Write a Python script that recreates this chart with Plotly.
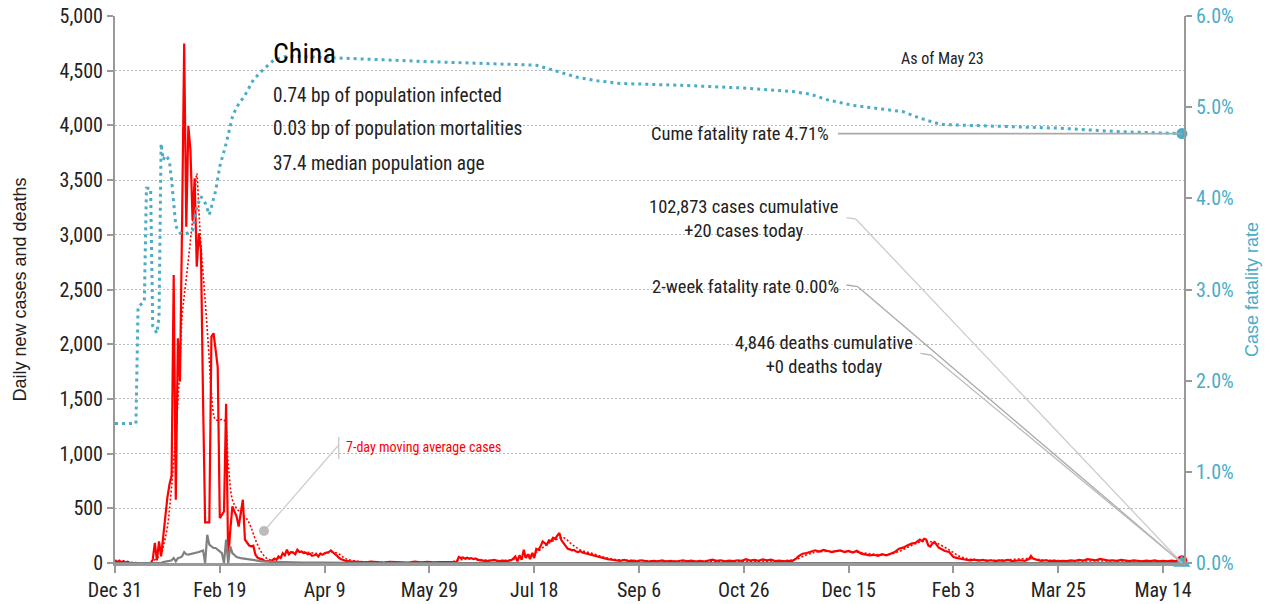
import plotly.graph_objects as go
import pandas as pd

# ---------------- data ----------------
START = "2019-12-31"
RANGE_DAYS = 510          # x axis spans Dec 31 2019 .. May 24 2021
TICK_STEP_DAYS = 50

# daily new cases: (day offset from Dec 31 2019, value)
case_day = [0, 1, 2, 3, 4, 5, 6, 7, 8, 17, 18, 19, 20, 21, 22, 23, 24, 25, 26, 27, 28, 29, 30, 31, 32, 33, 34, 35,
            36, 37, 38, 39, 40, 41, 42, 43, 44, 45, 46, 47, 48, 49, 50, 51, 52, 53, 54, 55, 56, 57, 58, 59, 60, 61,
            62, 63, 64, 65, 66, 67, 68, 69, 70, 71, 72, 73, 74, 75, 76, 77, 78, 79, 80, 81, 82, 83, 84, 85, 86, 87,
            88, 89, 90, 91, 92, 93, 94, 95, 96, 97, 98, 99, 100, 101, 102, 103, 104, 105, 106, 107, 108, 109, 110,
            112, 114, 116, 118, 120, 122, 125, 128, 131, 134, 137, 140, 143, 146, 149, 152, 155, 158, 161, 163,
            164, 165, 166, 167, 168, 169, 170, 171, 172, 173, 175, 177, 179, 181, 183, 185, 187, 189, 190, 191,
            192, 193, 194, 195, 196, 197, 198, 199, 200, 201, 202, 203, 204, 205, 206, 207, 208, 209, 210, 211,
            212, 213, 214, 215, 216, 217, 218, 219, 220, 221, 222, 223, 224, 225, 226, 227, 228, 229, 230, 231,
            232, 233, 235, 237, 239, 241, 243, 245, 247, 249, 251, 253, 255, 257, 259, 261, 263, 265, 267, 269,
            271, 273, 275, 277, 279, 281, 283, 285, 287, 289, 291, 293, 295, 297, 299, 301, 303, 305, 307, 309,
            311, 313, 315, 317, 319, 321, 323, 325, 326, 328, 330, 332, 334, 336, 338, 340, 342, 344, 346, 348,
            350, 352, 354, 356, 358, 360, 362, 364, 366, 368, 370, 372, 374, 376, 378, 380, 382, 384, 385, 386,
            387, 388, 389, 390, 391, 392, 393, 394, 396, 398, 400, 402, 404, 406, 408, 410, 412, 414, 416, 418,
            420, 422, 424, 426, 428, 430, 432, 434, 436, 437, 438, 440, 442, 444, 446, 448, 450, 452, 454, 456,
            458, 460, 462, 464, 466, 468, 470, 472, 474, 476, 478, 480, 482, 484, 486, 488, 490, 492, 494, 496,
            498, 500, 502, 504, 506, 508, 509]
case_val = [27, 8, 22, 6, 17, 4, 12, 2, 0, 0, 30, 183, 25, 197, 60, 250, 420, 600, 720, 800, 2633, 578, 2055, 1658,
            3100, 4749, 3074, 3994, 3774, 3135, 3516, 2709, 3014, 2860, 1500, 371, 371, 371, 2069, 2100, 1950, 1790,
            411, 440, 471, 1455, 30, 300, 517, 470, 426, 334, 450, 578, 213, 180, 160, 152, 158, 76, 50, 40, 36, 25,
            15, 20, 12, 25, 40, 30, 60, 45, 90, 70, 121, 80, 100, 95, 80, 121, 100, 105, 90, 95, 80, 85, 65, 70, 80,
            60, 85, 75, 90, 95, 100, 115, 95, 80, 65, 45, 35, 25, 20,
            15, 12, 8, 10, 5, 12, 8, 4, 10, 6, 8, 4, 12, 6, 10, 5, 9, 6, 8, 10,
            55, 45, 50, 40, 48, 38, 45, 35, 42, 28, 25, 18, 22, 28, 15, 22, 18, 25, 40, 60,
            15, 70, 30, 121, 45, 80, 35, 91, 45, 130, 120, 150, 197, 180, 167, 207, 200, 231, 220, 250,
            274, 207, 180, 146, 130, 125, 116, 120, 105, 100, 110, 95, 90, 85, 80, 75, 70, 60, 55, 50,
            45, 40, 35, 30, 25, 20, 28, 18, 22, 15, 25, 18, 12, 20, 16, 24, 14, 20, 12, 18,
            25, 15, 22, 14, 20, 12, 18, 30, 20, 25, 15, 22, 18, 25, 20, 35, 22, 28, 20, 32,
            25, 30, 18, 22, 15, 20, 18, 40, 60, 85, 91, 100, 116, 105, 120, 110, 100, 108, 115, 100,
            110, 95, 112, 85, 80, 70, 75, 65, 80, 70, 85, 100, 131, 140, 160, 177, 185, 213, 200, 222,
            215, 161, 150, 180, 192, 160, 140, 131, 110, 100, 55, 45, 35, 30, 25, 30, 22, 28, 20, 25,
            18, 24, 20, 28, 18, 22, 25, 20, 35, 65, 40, 28, 20, 25, 18, 22, 15, 20, 18, 24,
            20, 28, 22, 35, 30, 25, 38, 28, 22, 25, 20, 28, 22, 18, 24, 20, 16, 22, 18, 24,
            15, 20, 16, 22, 18, 25, 20]

# 7-day moving average of cases
ma_day = [0, 5, 10, 17, 19, 21, 22, 23, 25, 27, 29, 31, 32, 34, 36, 38, 39, 40, 41, 43, 45, 46, 48, 50, 52, 54, 56,
          58, 60, 63, 65, 67, 70, 73, 76, 80, 84, 90, 95, 100, 104, 107, 110, 114, 120, 160, 165, 170, 175, 185, 192,
          197, 202, 206, 210, 214, 218, 222, 228, 234, 240, 250, 320, 325, 330, 335, 350, 360, 368, 374, 380, 386,
          392, 398, 403, 408, 420, 437, 445, 509]
ma_val = [15, 12, 3, 2, 30, 60, 80, 150, 330, 700, 1190, 1800, 2252, 2600, 2950, 3318, 3560, 3226, 2900, 2405, 1850,
          1553, 1309, 1310, 1309, 913, 578, 500, 459, 400, 320, 213, 94, 35, 30, 60, 95, 100, 90, 85, 100, 80, 40, 20,
          10, 10, 30, 42, 30, 22, 40, 70, 110, 170, 210, 230, 170, 120, 85, 50, 30, 22, 22, 35, 75, 100, 105, 85, 75,
          105, 160, 200, 180, 120, 60, 35, 25, 40, 25, 20]

# daily deaths
death_day = [0, 22, 23, 24, 25, 26, 27, 28, 29, 30, 31, 32, 33, 34, 35, 36, 37, 38, 39, 40, 41, 42, 43, 44, 45, 46,
             47, 48, 49, 50, 51, 52, 53, 54, 55, 56, 58, 60, 63, 66, 70, 75, 80, 90, 100, 110, 120, 509]
death_val = [0, 0, 8, 10, 15, 20, 25, 45, 15, 45, 50, 60, 100, 80, 76, 80, 85, 90, 95, 100, 108, 115, 0, 258, 167,
             150, 137, 137, 120, 106, 91, 0, 213, 0, 152, 91, 55, 45, 36, 25, 15, 10, 6, 4, 3, 1, 0, 0]

# cumulative case fatality rate, percent
cfr_day = [0, 10, 11, 12, 13, 14, 15, 16, 17, 18, 19, 20, 21, 22, 23, 24, 25, 26, 27, 28, 29, 30, 31, 33, 35, 37,
           39, 41, 43, 45, 47, 48, 50, 53, 56, 58, 62, 66, 71, 76, 82, 100, 106, 149, 180, 201, 210, 220, 230, 241,
           270, 300, 324, 332, 340, 352, 376, 384, 394, 420, 450, 480, 509]
cfr_pct = [1.53, 1.53, 2.81, 2.83, 2.85, 2.87, 4.11, 4.11, 4.11, 2.6, 2.55, 2.52, 2.7, 4.6, 4.42, 4.47, 4.45, 4.4,
           4.2, 3.9, 3.7, 3.65, 3.62, 3.61, 3.62, 3.65, 3.9, 4.02, 3.95, 3.82, 4.0, 4.08, 4.35, 4.6, 4.89, 5.0, 5.13,
           5.30, 5.42, 5.52, 5.56, 5.55, 5.54, 5.50, 5.48, 5.46, 5.40, 5.33, 5.29, 5.26, 5.24, 5.21, 5.17, 5.14,
           5.08, 5.02, 4.95, 4.88, 4.81, 4.79, 4.77, 4.73, 4.71]

two_week_rate_pct = [0.0]   # latest 2-week fatality rate

country = "China"
facts = ["0.74 bp of population infected", "0.03 bp of population mortalities", "37.4 median population age"]
as_of = "As of May 23"
cases_cum, cases_today = "102,873", "+20"
deaths_cum, deaths_today = "4,846", "+0"

# ---------------- helpers ----------------
t0 = pd.Timestamp(START)
def to_dates(days):
    return [t0 + pd.Timedelta(days=d) for d in days]

RED = "#ff0000"
BLUE = "#4bacc6"
GRAY = "#808080"
NARROW = "Roboto Condensed, Liberation Sans, sans-serif"
REG = "Liberation Sans, Arial, sans-serif"

PAGE_OFF = 8               # page body margin in the browser
W, H = 1271 - PAGE_OFF, 604 - PAGE_OFF
ML, MT = 115 - PAGE_OFF, 16 - PAGE_OFF
PW, PH = 1069, 547
MR, MB = W - ML - PW, H - MT - PH

# screen pixel -> paper fraction
def px(xs):
    return (xs - PAGE_OFF - ML) / PW
def py(ys):
    return (PAGE_OFF + MT + PH - ys) / PH

fig = go.Figure()

fig.add_trace(go.Scatter(x=to_dates(cfr_day), y=[v / 100 for v in cfr_pct], yaxis="y2", mode="lines",
                         line=dict(color=BLUE, width=3, dash="3px,4px"), hoverinfo="skip", showlegend=False))
fig.add_trace(go.Scatter(x=to_dates(case_day), y=case_val, mode="lines",
                         line=dict(color=RED, width=2.2), showlegend=False))
fig.add_trace(go.Scatter(x=to_dates(ma_day), y=ma_val, mode="lines", line_shape="spline",
                         line=dict(color=RED, width=1.6, dash="2px,2px"), showlegend=False))
fig.add_trace(go.Scatter(x=to_dates(death_day), y=death_val, mode="lines",
                         line=dict(color=GRAY, width=2.2), showlegend=False))
# end markers
fig.add_trace(go.Scatter(x=to_dates(case_day[-1:]), y=case_val[-1:], mode="markers", cliponaxis=False,
                         marker=dict(color=RED, size=11), showlegend=False))
fig.add_trace(go.Scatter(x=to_dates(cfr_day[-1:]), y=[cfr_pct[-1] / 100], yaxis="y2", mode="markers",
                         cliponaxis=False, marker=dict(color=BLUE, size=11), showlegend=False))
fig.add_trace(go.Scatter(x=to_dates(cfr_day[-1:]), y=[v / 100 for v in two_week_rate_pct], yaxis="y2",
                         mode="markers", cliponaxis=False,
                         marker=dict(color=BLUE, size=15, symbol="triangle-up"), showlegend=False))

end_x = case_day[-1] / RANGE_DAYS
shapes = []
def seg(x0, y0, x1, y1, color, width=1.3):
    shapes.append(dict(type="line", xref="paper", yref="paper", x0=x0, y0=y0, x1=x1, y1=y1,
                       line=dict(color=color, width=width), layer="above"))

# leader lines
cfr_end_y = cfr_pct[-1] / 6.0
seg(px(838), cfr_end_y, end_x, cfr_end_y, "#aaaaaa", 1.6)
seg(px(846.5), py(217.7), px(855.7), py(219), "#cccccc")
seg(px(855.7), py(219), end_x, 0, "#cccccc")
seg(px(846.5), py(285), px(857.8), py(286.7), "#aaaaaa")
seg(px(857.8), py(286.7), end_x, 0, "#aaaaaa")
seg(px(920.4), py(353.3), px(930.8), py(355), "#bbbbbb")
seg(px(930.8), py(355), end_x, 0, "#bbbbbb")
# 7-day label leader
seg(px(338.7), py(437), px(338.7), py(459), "#cccccc", 1.5)
seg(px(338.7), py(445), px(264), py(531), "#cccccc", 1.2)
shapes.append(dict(type="circle", xref="paper", yref="paper", xsizemode="pixel", ysizemode="pixel",
                   xanchor=px(264), yanchor=py(531), x0=-5, x1=5, y0=-5, y1=5,
                   fillcolor="#bbbbbb", line=dict(width=0), layer="above"))

annotations = []
def txt(text, x, y, size, color="#222222", xanchor="left", align="left", family=NARROW):
    annotations.append(dict(text=text, x=px(x), y=py(y), xref="paper", yref="paper", showarrow=False,
                            xanchor=xanchor, yanchor="middle", align=align,
                            font=dict(family=family, size=size, color=color)))

txt(country, 271, 54, 28, "#000000")
for i, f in enumerate(facts):
    txt(f, 271, 95 + 34 * i, 19.3)
txt(as_of, 942, 59, 16, xanchor="center", align="center")
txt(f"Cume fatality rate {cfr_pct[-1]:.2f}%", 831, 134, 18.5, xanchor="right", align="right")
txt(f"{cases_cum} cases cumulative<br>{cases_today} cases today", 744, 219, 18.5, xanchor="center",
    align="center")
txt(f"2-week fatality rate {two_week_rate_pct[-1]:.2f}%", 841, 287, 18.5, xanchor="right", align="right")
txt(f"{deaths_cum} deaths cumulative<br>{deaths_today} deaths today", 824, 355, 18.5, xanchor="center",
    align="center")
txt("7-day moving average cases", 344, 447, 14, RED)

fig.update_layout(
    width=W, height=H, margin=dict(l=ML, r=MR, t=MT, b=MB, autoexpand=False),
    paper_bgcolor="white", plot_bgcolor="white",
    shapes=shapes, annotations=annotations, hovermode=False,
    xaxis=dict(type="date", range=[t0, t0 + pd.Timedelta(days=RANGE_DAYS)], automargin=False,
               tick0=t0, dtick=TICK_STEP_DAYS * 86400000, tickformat="%b %-d", ticklabeloverflow="allow",
               showgrid=False, zeroline=False, showline=True, linecolor="#999999", linewidth=2.5,
               ticks="outside", ticklen=7, tickwidth=1.5, tickcolor="#999999",
               tickfont=dict(family=NARROW, size=20, color="#222222")),
    yaxis=dict(range=[0, 5000], dtick=500, tickformat=",", showgrid=True, gridcolor="#bbbbbb",
               griddash="2px,2px", gridwidth=1, zeroline=False, showline=True, linecolor="#999999",
               linewidth=2, automargin=False, ticklabeloverflow="allow",
               ticks="outside", ticklen=6, tickwidth=1.5, tickcolor="#999999",
               tickfont=dict(family=NARROW, size=20, color="#222222"),
               title=dict(text="Daily new cases and deaths", standoff=28,
                          font=dict(family=REG, size=18, color="#222222"))),
    yaxis2=dict(range=[0, 0.06], dtick=0.01, tickformat=".1%", overlaying="y", side="right",
                showgrid=False, zeroline=False, showline=True, linecolor="#999999", linewidth=2,
                automargin=False, ticklabeloverflow="allow",
                ticks="outside", ticklen=6, tickwidth=1.5, tickcolor="#999999",
                tickfont=dict(family=NARROW, size=20, color=BLUE),
                title=dict(text="Case fatality rate", standoff=13,
                           font=dict(family=REG, size=18, color=BLUE))),
)

fig.write_html("out.html")
